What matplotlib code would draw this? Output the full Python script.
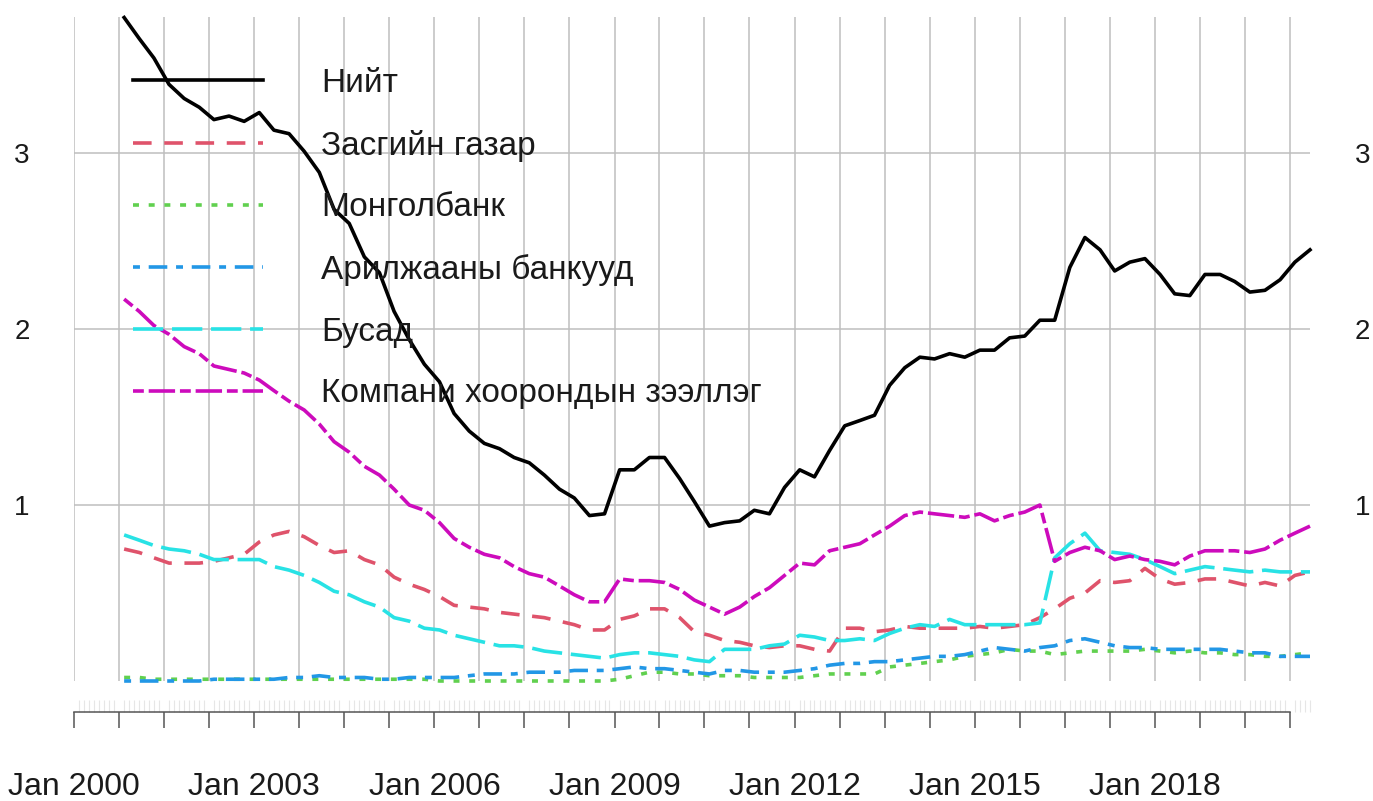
import numpy as np
import pandas as pd
import matplotlib
matplotlib.use('Agg')
import matplotlib.pyplot as plt
import matplotlib.dates as mdates
from matplotlib.ticker import FixedLocator, FixedFormatter

plt.rcParams['font.family'] = ['Liberation Sans', 'DejaVu Sans']
plt.rcParams['lines.scale_dashes'] = False

# quarterly observations, Nov 2000 .. Aug 2020
dates = pd.date_range('2000-11-01', periods=80, freq='3MS')

niit = [3.77, 3.65, 3.54, 3.39, 3.31, 3.26, 3.19, 3.21, 3.18, 3.23,
        3.13, 3.11, 3.01, 2.89, 2.68, 2.60, 2.41, 2.32, 2.10, 1.94,
        1.80, 1.70, 1.52, 1.42, 1.35, 1.32, 1.27, 1.24, 1.17, 1.09,
        1.04, 0.94, 0.95, 1.20, 1.20, 1.27, 1.27, 1.15, 1.02, 0.88,
        0.90, 0.91, 0.97, 0.95, 1.10, 1.20, 1.16, 1.31, 1.45, 1.48,
        1.51, 1.68, 1.78, 1.84, 1.83, 1.86, 1.84, 1.88, 1.88, 1.95,
        1.96, 2.05, 2.05, 2.35, 2.52, 2.45, 2.33, 2.38, 2.40, 2.31,
        2.20, 2.19, 2.31, 2.31, 2.27, 2.21, 2.22, 2.28, 2.38, 2.45]

zasgiin_gazar = [0.75, 0.73, 0.70, 0.67, 0.67, 0.67, 0.68, 0.70, 0.72, 0.79,
                 0.83, 0.85, 0.82, 0.77, 0.73, 0.74, 0.69, 0.66, 0.59, 0.55,
                 0.52, 0.48, 0.43, 0.42, 0.41, 0.39, 0.38, 0.37, 0.36, 0.34,
                 0.32, 0.29, 0.29, 0.35, 0.37, 0.41, 0.41, 0.36, 0.28, 0.26,
                 0.23, 0.22, 0.20, 0.19, 0.20, 0.20, 0.18, 0.17, 0.30, 0.30,
                 0.28, 0.29, 0.31, 0.30, 0.30, 0.30, 0.30, 0.31, 0.30, 0.31,
                 0.32, 0.36, 0.41, 0.47, 0.50, 0.57, 0.56, 0.57, 0.64, 0.58,
                 0.55, 0.56, 0.58, 0.58, 0.56, 0.54, 0.56, 0.54, 0.60, 0.62]

mongolbank = [0.02, 0.02, 0.01, 0.01, 0.01, 0.01, 0.01, 0.01, 0.01, 0.01,
              0.01, 0.01, 0.01, 0.01, 0.01, 0.01, 0.01, 0.01, 0.01, 0.01,
              0.01, 0.00, 0.00, 0.00, 0.00, 0.00, 0.00, 0.00, 0.00, 0.00,
              0.00, 0.00, 0.00, 0.01, 0.03, 0.05, 0.05, 0.04, 0.04, 0.03,
              0.03, 0.03, 0.02, 0.02, 0.02, 0.02, 0.03, 0.04, 0.04, 0.04,
              0.04, 0.08, 0.09, 0.10, 0.11, 0.12, 0.14, 0.15, 0.16, 0.18,
              0.17, 0.17, 0.15, 0.16, 0.17, 0.17, 0.17, 0.17, 0.18, 0.17,
              0.16, 0.17, 0.16, 0.16, 0.15, 0.15, 0.14, 0.14, 0.15, 0.16]

ariljaany_bank = [0.00, 0.00, 0.00, 0.00, 0.00, 0.00, 0.01, 0.01, 0.01, 0.01,
                  0.01, 0.02, 0.02, 0.03, 0.02, 0.02, 0.02, 0.01, 0.01, 0.02,
                  0.02, 0.02, 0.02, 0.03, 0.04, 0.04, 0.04, 0.05, 0.05, 0.05,
                  0.06, 0.06, 0.06, 0.07, 0.08, 0.07, 0.07, 0.06, 0.05, 0.04,
                  0.06, 0.06, 0.05, 0.05, 0.05, 0.06, 0.07, 0.09, 0.10, 0.10,
                  0.11, 0.11, 0.12, 0.13, 0.14, 0.14, 0.15, 0.17, 0.19, 0.18,
                  0.17, 0.19, 0.20, 0.23, 0.24, 0.22, 0.20, 0.19, 0.19, 0.18,
                  0.18, 0.18, 0.18, 0.18, 0.17, 0.16, 0.16, 0.14, 0.14, 0.14]

busad = [0.83, 0.80, 0.77, 0.75, 0.74, 0.72, 0.69, 0.69, 0.69, 0.69,
         0.65, 0.63, 0.60, 0.56, 0.51, 0.49, 0.45, 0.42, 0.36, 0.34,
         0.30, 0.29, 0.26, 0.24, 0.22, 0.20, 0.20, 0.19, 0.17, 0.16,
         0.15, 0.14, 0.13, 0.15, 0.16, 0.16, 0.15, 0.14, 0.12, 0.11,
         0.18, 0.18, 0.18, 0.20, 0.21, 0.26, 0.25, 0.23, 0.23, 0.24,
         0.23, 0.27, 0.30, 0.32, 0.31, 0.35, 0.32, 0.32, 0.32, 0.32,
         0.32, 0.33, 0.70, 0.78, 0.84, 0.74, 0.73, 0.72, 0.69, 0.65,
         0.61, 0.63, 0.65, 0.64, 0.63, 0.62, 0.63, 0.62, 0.62, 0.62]

kompani = [2.17, 2.10, 2.02, 1.97, 1.90, 1.86, 1.79, 1.77, 1.75, 1.71,
           1.65, 1.59, 1.54, 1.46, 1.36, 1.30, 1.22, 1.17, 1.09, 1.00,
           0.97, 0.90, 0.81, 0.76, 0.72, 0.70, 0.65, 0.61, 0.59, 0.54,
           0.49, 0.45, 0.45, 0.58, 0.57, 0.57, 0.56, 0.52, 0.46, 0.42,
           0.38, 0.42, 0.48, 0.53, 0.60, 0.67, 0.66, 0.74, 0.76, 0.78,
           0.83, 0.88, 0.94, 0.96, 0.95, 0.94, 0.93, 0.95, 0.91, 0.94,
           0.96, 1.00, 0.68, 0.73, 0.76, 0.74, 0.69, 0.71, 0.69, 0.68,
           0.66, 0.71, 0.74, 0.74, 0.74, 0.73, 0.75, 0.80, 0.84, 0.88]

series = [niit, zasgiin_gazar, mongolbank, ariljaany_bank, busad, kompani]
labels = ['Нийт', 'Засгийн газар', 'Монголбанк', 'Арилжааны банкууд',
          'Бусад', 'Компани хоорондын зээллэг']
colors = ['black', '#DF536B', '#61D04F', '#2297E6', '#28E2E5', '#CD0BBC']
# R lty 1..6 (solid, dashed, dotted, dotdash, longdash, twodash)
dash_list = [None, (13.4, 9.1), (4.3, 7.0), (5.0, 6.3, 13.4, 6.3),
             (21.8, 6.3), (7.8, 3.5, 19.0, 3.5)]

fig = plt.figure(figsize=(13.73, 8.01), dpi=100)
ax = fig.add_axes([74 / 1373, 120 / 801, 1236 / 1373, 664 / 801])

for vals, lab, col, dsh in zip(series, labels, colors, dash_list):
    ln, = ax.plot(dates, vals, color=col, lw=2.6, label=lab, clip_on=False)
    if dsh is not None:
        ln.set_dashes(dsh)

ax.set_xlim(pd.Timestamp('2000-01-01'), dates[-1])
ax.set_ylim(0, 3.773)

# x axis: grid/major ticks every 9 months, labels every 3 years
major = pd.date_range('2000-01-01', '2020-04-01', freq='9MS')
major_num = mdates.date2num(major)
major_lab = [d.strftime('Jan %Y') if i % 4 == 0 else '' for i, d in enumerate(major)]
ax.xaxis.set_major_locator(FixedLocator(major_num))
ax.xaxis.set_major_formatter(FixedFormatter(major_lab))
minor = pd.date_range('2000-01-01', dates[-1], freq='MS')
ax.xaxis.set_minor_locator(FixedLocator(mdates.date2num(minor)))

ax.set_yticks([1, 2, 3])
ax.set_yticklabels(['1', '2', '3'])

ax.grid(True, which='major', color='#BEBEBE', lw=1.1)
ax.set_axisbelow(True)

for s in ['top', 'left', 'right']:
    ax.spines[s].set_visible(False)
ax.spines['bottom'].set_position(('outward', 22.3))
ax.spines['bottom'].set_bounds(major_num[0], major_num[-1])
ax.spines['bottom'].set_color('#555555')
ax.spines['bottom'].set_linewidth(1.1)

ax.tick_params(axis='x', which='major', direction='out', length=11.5, width=1.1,
               color='#555555', labelsize=23, labelcolor='#1a1a1a', pad=32)
ax.tick_params(axis='x', which='minor', direction='in', length=8.6, width=0.8,
               color='#E6E6E6')
ax.tick_params(axis='y', length=0, labelsize=20, labelcolor='#1a1a1a',
               labelleft=True, labelright=True, pad=32)

leg = ax.legend(loc='upper left', bbox_to_anchor=(59 / 1236, 0.923), frameon=False,
                fontsize=24, handlelength=3.9, handletextpad=1.75, labelspacing=0.92,
                borderpad=0, borderaxespad=0)
for t in leg.get_texts():
    t.set_color('#1a1a1a')

fig.savefig('out.png', dpi=100)
